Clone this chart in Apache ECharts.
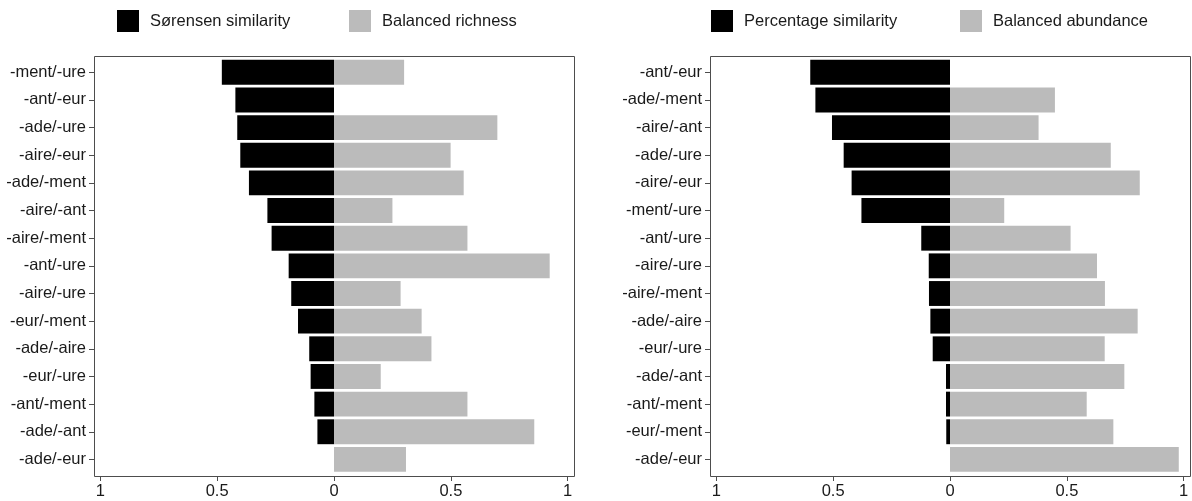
<!DOCTYPE html>
<html>
<head>
<meta charset="utf-8">
<script src="https://cdn.jsdelivr.net/npm/echarts@6/dist/echarts.min.js"></script>
<style>
html,body{margin:0;padding:0;background:#fff;}
#chart{width:1192px;height:501px;}
</style>
</head>
<body>
<div id="chart"></div>
<script>
// ---- Data (top to bottom) ----
const leftCategories = ['-ment/-ure','-ant/-eur','-ade/-ure','-aire/-eur','-ade/-ment','-aire/-ant','-aire/-ment','-ant/-ure','-aire/-ure','-eur/-ment','-ade/-aire','-eur/-ure','-ant/-ment','-ade/-ant','-ade/-eur'];
const sorensenSimilarity = [0.480,0.422,0.414,0.401,0.364,0.285,0.267,0.194,0.183,0.154,0.106,0.100,0.084,0.071,0.000];
const balancedRichness   = [0.300,0.000,0.699,0.499,0.555,0.250,0.571,0.923,0.285,0.375,0.417,0.200,0.571,0.857,0.308];

const rightCategories = ['-ant/-eur','-ade/-ment','-aire/-ant','-ade/-ure','-aire/-eur','-ment/-ure','-ant/-ure','-aire/-ure','-aire/-ment','-ade/-aire','-eur/-ure','-ade/-ant','-ant/-ment','-eur/-ment','-ade/-eur'];
const percentageSimilarity = [0.598,0.576,0.505,0.455,0.421,0.379,0.123,0.091,0.090,0.084,0.074,0.017,0.017,0.016,0.000];
const balancedAbundance    = [0.000,0.449,0.379,0.688,0.812,0.232,0.516,0.629,0.663,0.803,0.662,0.746,0.585,0.699,0.979];

const xTicks = [-1,-0.5,0,0.5,1];
const seriesNames = ['Sørensen similarity','Balanced richness','Percentage similarity','Balanced abundance'];

// ---- Layout ----
const FONT = '"Liberation Sans", Arial, sans-serif';
const FS = 16.5;
const BLACK = '#000000', GREY = '#bbbbbb', FRAME = '#4d4d4d';
const panelTop = 55.7, panelBottom = 476, panelW = 480;
const panels = [{left:94}, {left:710}];
const band = (panelBottom - panelTop) / 15.2;
const pad = 0.1 * band;
const XLIM = 1.027;

const chart = echarts.init(document.getElementById('chart'), null, {renderer:'canvas'});

const grids = panels.map(p => ({
  left: p.left, width: panelW,
  top: panelTop + pad, height: 15 * band,
  containLabel: false
}));

const xAxes = panels.map((p, i) => ({
  type: 'value', gridIndex: i, min: -XLIM, max: XLIM,
  offset: pad,
  axisLine: {show:false, onZero:false},
  splitLine: {show:false},
  axisTick: {show:true, customValues: xTicks, length: 5, lineStyle:{color: FRAME, width:1}},
  axisLabel: {customValues: xTicks, margin: 7, color:'#1a1a1a', fontSize:FS, fontFamily: FONT,
    formatter: v => String(Math.abs(Math.round(v*10)/10))}
}));

const yAxes = [leftCategories, rightCategories].map((cats, i) => ({
  type: 'category', gridIndex: i, data: cats, inverse: true, position: 'left',
  axisLine: {show:false, onZero:false},
  axisTick: {show:true, length: 5, alignWithLabel:true, lineStyle:{color: FRAME, width:1}},
  axisLabel: {margin: 8, color:'#1a1a1a', fontSize:FS, fontFamily: FONT},
  splitLine: {show:false}
}));

function barSeries(name, values, color, idx, neg) {
  return {
    name, type:'bar', xAxisIndex: idx, yAxisIndex: idx,
    data: values.map(v => v > 0 ? (neg ? -v : v) : null),
    barWidth: '90%', barGap: '-100%',
    itemStyle: {color, borderWidth:0},
    emphasis: {disabled:true},
    animation: false
  };
}

const series = [
  barSeries(seriesNames[0], sorensenSimilarity, BLACK, 0, true),
  barSeries(seriesNames[1], balancedRichness, GREY, 0, false),
  barSeries(seriesNames[2], percentageSimilarity, BLACK, 1, true),
  barSeries(seriesNames[3], balancedAbundance, GREY, 1, false)
];

const legendLefts = [117, 349, 711, 960];
const legends = seriesNames.map((n, i) => ({
  data: [n], left: legendLefts[i], top: 10,
  itemWidth: 22, itemHeight: 22, icon: 'rect', selectedMode: false,
  padding: 0,
  textStyle: {fontSize:FS, fontFamily: FONT, color:'#1a1a1a', padding:[2,0,0,6]}
}));

const frames = panels.map(p => ({
  type:'rect', silent:true, z: 100,
  shape:{x: p.left + 0.5, y: Math.round(panelTop) + 0.5, width: panelW, height: Math.round(panelBottom - panelTop)},
  style:{fill:null, stroke: FRAME, lineWidth:1}
}));

chart.setOption({
  animation:false,
  backgroundColor:'#ffffff',
  legend: legends,
  grid: grids,
  xAxis: xAxes,
  yAxis: yAxes,
  series,
  graphic: frames
});
</script>
</body>
</html>
